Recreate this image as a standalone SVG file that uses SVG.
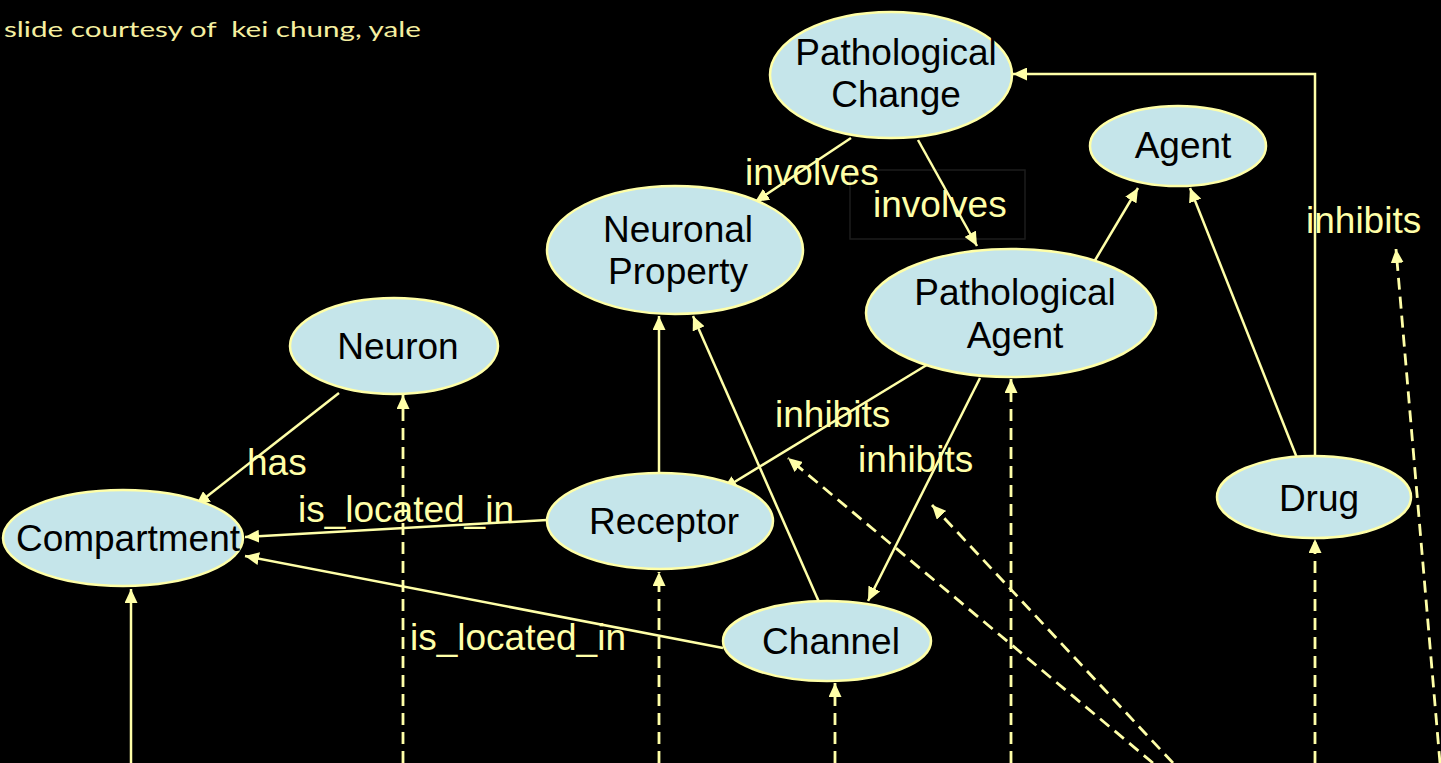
<svg xmlns="http://www.w3.org/2000/svg" width="1441" height="763" viewBox="0 0 1441 763">
<defs>
<style>
.n ellipse{fill:#C5E5EA;stroke:#FFFFA8;stroke-width:2.5}
.n text{font-family:"Liberation Sans",Arial,sans-serif;font-size:37px;fill:#000;text-anchor:middle}
.e{fill:none;stroke:#FFFFA8;stroke-width:2.5;marker-end:url(#ah)}
.d{fill:none;stroke:#FFFFA8;stroke-width:2.8;stroke-dasharray:12 7;marker-end:url(#ah)}
.l{font-family:"Liberation Sans",Arial,sans-serif;font-size:37px;fill:#FFFFA8}
</style>
<marker id="ah" markerUnits="userSpaceOnUse" markerWidth="15" markerHeight="13" refX="14" refY="6.5" orient="auto">
<path d="M0,0 L14,6.5 L0,13 z" fill="#FFFFA8"/>
</marker>
</defs>
<rect width="1441" height="763" fill="#000"/>
<text x="4" y="37" xml:space="preserve" font-family="Lato, 'DejaVu Sans', sans-serif" font-size="22" fill="#F5EFA0" textLength="417" lengthAdjust="spacingAndGlyphs">slide courtesy of  kei chung, yale</text>
<rect x="850" y="170" width="175" height="69" fill="none" stroke="#1c1c1c" stroke-width="1.5"/>
<g id="connectors">
<line class="e" x1="851" y1="138" x2="755" y2="202"/>
<line class="e" x1="918" y1="140" x2="977" y2="246"/>
<polyline class="e" points="1315,457 1315,74 1013,74"/>
<line class="e" x1="1297" y1="458" x2="1190" y2="188"/>
<line class="e" x1="1094" y1="262" x2="1138" y2="188"/>
<line class="e" x1="659" y1="472" x2="659" y2="316"/>
<line class="e" x1="819" y1="602" x2="693" y2="316"/>
<line class="e" x1="930" y1="363" x2="723" y2="489"/>
<line class="e" x1="980" y1="378" x2="868" y2="601"/>
<line class="e" x1="339" y1="393" x2="196" y2="505"/>
<line class="e" x1="547" y1="520" x2="245" y2="537"/>
<line class="e" x1="723" y1="648" x2="245" y2="556"/>
<line class="e" x1="131" y1="763" x2="131" y2="589"/>
<line class="d" x1="403" y1="763" x2="403" y2="395"/>
<line class="d" x1="659" y1="763" x2="659" y2="572"/>
<line class="d" x1="835" y1="763" x2="835" y2="683"/>
<line class="d" x1="1011" y1="763" x2="1011" y2="379"/>
<line class="d" x1="1315" y1="763" x2="1315" y2="539"/>
<line class="d" x1="1440" y1="763" x2="1396" y2="249"/>
<line class="d" x1="1153" y1="763" x2="788" y2="458"/>
<line class="d" x1="1173" y1="763" x2="932" y2="505"/>
</g>
<g id="labels">
<text class="l" x="745" y="185">involves</text>
<text class="l" x="873" y="217">involves</text>
<text class="l" x="1306" y="233">inhibits</text>
<text class="l" x="247" y="475">has</text>
<text class="l" x="298" y="522">is_located_in</text>
<text class="l" x="410" y="650">is_located_in</text>
<text class="l" x="775" y="427">inhibits</text>
<text class="l" x="858" y="472">inhibits</text>
</g>
<g id="pathological-change" class="n"><ellipse cx="891" cy="75" rx="121" ry="63"/><text x="896" y="65">Pathological</text><text x="896" y="107">Change</text></g>
<g id="agent" class="n"><ellipse cx="1178" cy="146" rx="88" ry="40"/><text x="1183" y="158">Agent</text></g>
<g id="neuronal-property" class="n"><ellipse cx="675" cy="250" rx="128" ry="64"/><text x="678" y="242">Neuronal</text><text x="678" y="284">Property</text></g>
<g id="pathological-agent" class="n"><ellipse cx="1011" cy="313" rx="145" ry="64"/><text x="1015" y="305">Pathological</text><text x="1015" y="348">Agent</text></g>
<g id="neuron" class="n"><ellipse cx="394" cy="346" rx="104" ry="48"/><text x="398" y="359">Neuron</text></g>
<g id="compartment" class="n"><ellipse cx="123" cy="538" rx="120" ry="48"/><text x="128" y="551">Compartment</text></g>
<g id="receptor" class="n"><ellipse cx="660" cy="521" rx="113" ry="48"/><text x="664" y="534">Receptor</text></g>
<g id="channel" class="n"><ellipse cx="827" cy="641" rx="104" ry="40"/><text x="831" y="654">Channel</text></g>
<g id="drug" class="n"><ellipse cx="1314" cy="497" rx="97" ry="41"/><text x="1319" y="511">Drug</text></g>
</svg>
